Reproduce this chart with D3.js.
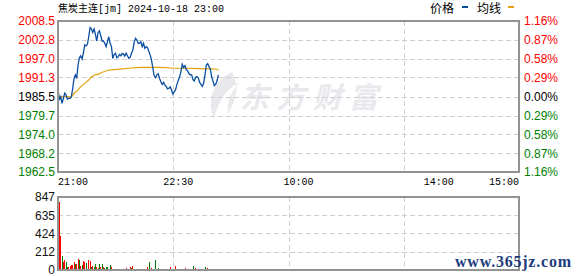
<!DOCTYPE html>
<html>
<head>
<meta charset="utf-8">
<script src="https://cdn.jsdelivr.net/npm/d3@7"></script>
<style>
  body { margin: 0; background: #fff; }
  svg { display: block; }
  .grid { stroke: #cfcfcf; stroke-dasharray: 5,3; shape-rendering: crispEdges; }
  .frame { fill: none; stroke: #939393; stroke-width: 1.5; shape-rendering: crispEdges; }
  .num { font-family: "Liberation Sans", Arial, sans-serif; font-size: 12px; }
  .mono { font-family: "Liberation Mono", "Noto Sans CJK SC", monospace; font-size: 10px; }
</style>
</head>
<body>
<div id="chart-area"></div>
<script>

// Chart size
var width = 578,
    height = 276;

// Title and legend
var title = "焦炭主连[jm] 2024-10-18 23:00";
var legendNames = ["价格", "均线"];

// Price axis labels (left) and change labels (right)
var priceTicks = [2008.5, 2002.8, 1997.0, 1991.3, 1985.5, 1979.7, 1974.0, 1968.2, 1962.5];
var pctTicks = ["1.16%", "0.87%", "0.58%", "0.29%", "0.00%", "0.29%", "0.58%", "0.87%", "1.16%"];
var preClose = 1985.5;

// Volume axis labels
var volTicks = [847, 635, 424, 212, 0];

// Time axis: minutes from 21:00 over the trading sessions
var timeTicks = [0, 90, 180, 285, 345];
var timeLabels = ["21:00", "22:30", "10:00", "14:00", "15:00"];

// Minute prices 21:00 - 23:00
var prices = [
  1988.0, 1984.4, 1985.4, 1983.4, 1984.9, 1986.5, 1986.0, 1984.7, 1984.9, 1984.9,
  1985.4, 1988.0, 1991.0, 1992.1, 1991.0, 1995.1, 1997.3, 1997.9, 1996.9, 1998.7,
  2001.2, 2000.9, 2001.4, 2003.7, 2006.5, 2006.1, 2005.0, 2006.1, 2004.4, 2002.4,
  2005.0, 2005.5, 2004.0, 2002.4, 2002.4, 2001.7, 2000.7, 2002.2, 2003.7, 2001.7,
  2000.7, 1997.1, 1998.3, 1998.7, 1997.3, 1997.6, 1998.3, 1997.9, 1998.6, 1998.5,
  1997.8, 1998.7, 1997.9, 1997.1, 1997.5, 1998.7, 1999.6, 2002.0, 2003.2, 2002.7,
  2001.7, 2001.7, 2002.2, 2000.7, 2001.7, 2000.2, 2000.7, 2000.4, 1999.2, 1998.1,
  1996.6, 1994.1, 1991.8, 1991.2, 1992.1, 1992.4, 1991.0, 1990.0, 1989.2, 1989.8,
  1989.0, 1988.5, 1987.8, 1988.0, 1988.4, 1987.4, 1986.2, 1987.0, 1987.6, 1989.2,
  1990.4, 1991.5, 1993.1, 1995.3, 1994.3, 1994.9, 1993.7, 1993.3, 1992.5, 1992.1,
  1992.1, 1990.6, 1990.2, 1991.4, 1991.5, 1991.2, 1989.8, 1989.2, 1988.6, 1989.5,
  1992.1, 1995.1, 1995.5, 1994.6, 1993.9, 1991.5, 1990.2, 1988.8, 1989.2, 1990.2,
  1992.1
];

// Average price line, read at these minutes
var avgMinutes = [0, 10, 11, 12, 15, 17, 20, 23, 25, 28, 31, 33, 35, 37, 42, 48, 53, 58, 62, 73, 81, 86, 96, 105, 115, 119, 120];
var avgPrices = [1985.5, 1985.4, 1985.8, 1986.5, 1987.5, 1988.5, 1989.5, 1990.5, 1991.5, 1992.1, 1992.4, 1992.9, 1993.1, 1993.5, 1993.7, 1993.9, 1994.1, 1994.3, 1994.4, 1994.4, 1994.3, 1994.1, 1994.1, 1994.0, 1993.9, 1993.8, 1993.5];

// Minute volumes and direction (1 = up/red, 0 = down/green)
var volumes = [
  784, 392, 161, 92, 115, 92, 38, 38, 46, 61,
  61, 92, 69, 69, 130, 115, 46, 54, 108, 92,
  84, 10, 115, 104, 38, 46, 38, 69, 31, 23,
  69, 31, 69, 38, 23, 31, 31, 15, 61, 38,
  15, 15, 15, 12, 15, 12, 15, 15, 12, 12,
  23, 15, 12, 38, 23, 46, 12, 12, 12, 15,
  12, 12, 12, 12, 12, 12, 35, 92, 12, 23,
  12, 12, 115, 12, 23, 12, 12, 12, 12, 12,
  12, 12, 12, 35, 12, 12, 12, 46, 12, 12,
  12, 12, 12, 12, 19, 12, 12, 12, 12, 12,
  46, 12, 23, 12, 12, 12, 12, 12, 12, 35,
  12, 23, 12, 12, 12, 12, 12, 12, 12, 12,
  12
];
var volUp = [
  1, 1, 0, 1, 1, 0, 0, 1, 1, 1,
  1, 1, 0, 1, 1, 0, 1, 0, 1, 1,
  0, 1, 1, 1, 0, 1, 0, 0, 1, 1,
  0, 1, 0, 1, 0, 0, 0, 0, 0, 1,
  0, 0, 0, 1, 0, 1, 0, 0, 1, 0,
  1, 1, 0, 1, 0, 1, 0, 0, 0, 1,
  1, 0, 1, 1, 0, 0, 1, 0, 1, 1,
  0, 0, 0, 0, 0, 1, 0, 1, 0, 0,
  0, 0, 0, 1, 0, 0, 1, 1, 0, 1,
  0, 1, 0, 1, 1, 0, 0, 0, 1, 0,
  0, 1, 1, 1, 0, 1, 0, 1, 0, 0,
  1, 1, 0, 1, 0, 0, 1, 0, 1, 0,
  1
];

// Panel geometry
var left = 58, right = 519;
var priceTop = 21, priceBottom = 172;
var volTop = 197, volBottom = 270;

var svg = d3.select("#chart-area").append("svg")
    .attr("width", width)
    .attr("height", height);

// Scales
var x = d3.scaleLinear().domain([0, 345]).range([left, right]);
var y = d3.scaleLinear()
    .domain([priceTicks[priceTicks.length - 1], priceTicks[0]])
    .range([priceBottom, priceTop]);
var yVol = d3.scaleLinear().domain([0, volTicks[0]]).range([volBottom, volTop]);

// Vertical grid sits on equal quarters of the time axis
var vGrid = d3.range(1, 4).map(function(i){ return i * 345 / 4; });

// Watermark
var wm = svg.append("g").attr("fill", "#e9e9ed");
wm.append("path")
    .attr("d", "M232,72 C214,80 206,100 214,118 C218,104 224,90 240,82 C232,90 226,102 228,114 C236,100 240,86 232,72 Z");
wm.append("text")
    .attr("x", 240).attr("y", 108)
    .attr("font-family", "Noto Sans CJK SC")
    .attr("font-weight", "bold")
    .attr("font-style", "italic")
    .attr("font-size", 29)
    .attr("textLength", 138)
    .text("东方财富");

// Price grid
svg.append("g").selectAll("line")
    .data(priceTicks.slice(1, -1))
    .enter().append("line")
    .attr("class", "grid")
    .attr("x1", left).attr("x2", right)
    .attr("y1", function(d){ return Math.round(y(d)) + 0.5; })
    .attr("y2", function(d){ return Math.round(y(d)) + 0.5; });

svg.append("g").selectAll("line")
    .data(vGrid)
    .enter().append("line")
    .attr("class", "grid")
    .attr("x1", function(d){ return Math.round(x(d)) + 0.5; })
    .attr("x2", function(d){ return Math.round(x(d)) + 0.5; })
    .attr("y1", priceTop).attr("y2", priceBottom);

// Volume grid
svg.append("g").selectAll("line")
    .data(volTicks.slice(1, -1))
    .enter().append("line")
    .attr("class", "grid")
    .attr("x1", left).attr("x2", right)
    .attr("y1", function(d){ return Math.round(yVol(d)) + 0.5; })
    .attr("y2", function(d){ return Math.round(yVol(d)) + 0.5; });

svg.append("g").selectAll("line")
    .data(vGrid)
    .enter().append("line")
    .attr("class", "grid")
    .attr("x1", function(d){ return Math.round(x(d)) + 0.5; })
    .attr("x2", function(d){ return Math.round(x(d)) + 0.5; })
    .attr("y1", volTop).attr("y2", volBottom);

// Volume bars
svg.append("g").selectAll("rect")
    .data(volumes)
    .enter().append("rect")
    .attr("x", function(d, i){ return Math.round(x(i)) + 1; })
    .attr("width", 1)
    .attr("y", function(d){ return yVol(d); })
    .attr("height", function(d){ return volBottom - yVol(d); })
    .attr("fill", function(d, i){ return volUp[i] ? "#ff0000" : "#008000"; })
    .attr("shape-rendering", "crispEdges");

// Average line
var avgLine = d3.line()
    .x(function(d, i){ return x(avgMinutes[i]); })
    .y(function(d){ return y(d); });

svg.append("path")
    .datum(avgPrices)
    .attr("d", avgLine)
    .attr("fill", "none")
    .attr("stroke", "#e3a20c")
    .attr("stroke-width", 1.2);

// Price line
var priceLine = d3.line()
    .x(function(d, i){ return x(i); })
    .y(function(d){ return y(d); });

svg.append("path")
    .datum(prices)
    .attr("d", priceLine)
    .attr("fill", "none")
    .attr("stroke", "#0a4ea2")
    .attr("stroke-width", 1.3);

// Frames
svg.append("rect").attr("class", "frame")
    .attr("x", left).attr("y", priceTop)
    .attr("width", right - left).attr("height", priceBottom - priceTop);
svg.append("rect").attr("class", "frame")
    .attr("x", left).attr("y", volTop)
    .attr("width", right - left).attr("height", volBottom - volTop);

// Colour by side of previous close
function sideColor(v) {
  if (v > preClose) return "#ff0000";
  if (v < preClose) return "#008000";
  return "#000";
}

// Left price labels
svg.append("g").selectAll("text")
    .data(priceTicks)
    .enter().append("text")
    .attr("class", "num")
    .attr("x", left - 3)
    .attr("y", function(d){ return y(d); })
    .attr("dy", "0.36em")
    .attr("text-anchor", "end")
    .attr("fill", function(d){ return sideColor(d); })
    .text(function(d){ return d.toFixed(1); });

// Right percent labels
svg.append("g").selectAll("text")
    .data(pctTicks)
    .enter().append("text")
    .attr("class", "num")
    .attr("x", right + 5)
    .attr("y", function(d, i){ return y(priceTicks[i]); })
    .attr("dy", "0.36em")
    .attr("fill", function(d, i){ return sideColor(priceTicks[i]); })
    .text(function(d){ return d; });

// Volume labels
svg.append("g").selectAll("text")
    .data(volTicks)
    .enter().append("text")
    .attr("class", "num")
    .attr("x", left - 3)
    .attr("y", function(d){ return yVol(d); })
    .attr("dy", "0.36em")
    .attr("text-anchor", "end")
    .attr("fill", "#111")
    .text(function(d){ return d; });

// Time labels
svg.append("g").selectAll("text")
    .data(timeTicks)
    .enter().append("text")
    .attr("class", "mono")
    .attr("x", function(d){ return x(d); })
    .attr("y", 185)
    .attr("text-anchor", function(d, i){ return i === 0 ? "start" : (i === timeTicks.length - 1 ? "end" : "middle"); })
    .attr("fill", "#000")
    .text(function(d, i){ return timeLabels[i]; });

// Title
svg.append("text")
    .attr("class", "mono")
    .attr("x", left)
    .attr("y", 12)
    .attr("fill", "#000")
    .text(title);

// Legend
var legend = svg.append("g").attr("font-family", "Noto Sans CJK SC").attr("font-size", 12);
legend.append("text").attr("x", 430).attr("y", 13).text(legendNames[0]);
legend.append("rect").attr("x", 462).attr("y", 6).attr("width", 6).attr("height", 2).attr("fill", "#0a4ea2");
legend.append("text").attr("x", 477).attr("y", 13).text(legendNames[1]);
legend.append("rect").attr("x", 508).attr("y", 6).attr("width", 6).attr("height", 2).attr("fill", "#e3a20c");

// Site mark
svg.append("text")
    .attr("x", 455).attr("y", 267)
    .attr("font-family", "Liberation Serif")
    .attr("font-weight", "bold")
    .attr("font-size", 16)
    .attr("textLength", 116)
    .attr("fill", "#1c3c7c")
    .text("www.365jz.com");

</script>
</body>
</html>
